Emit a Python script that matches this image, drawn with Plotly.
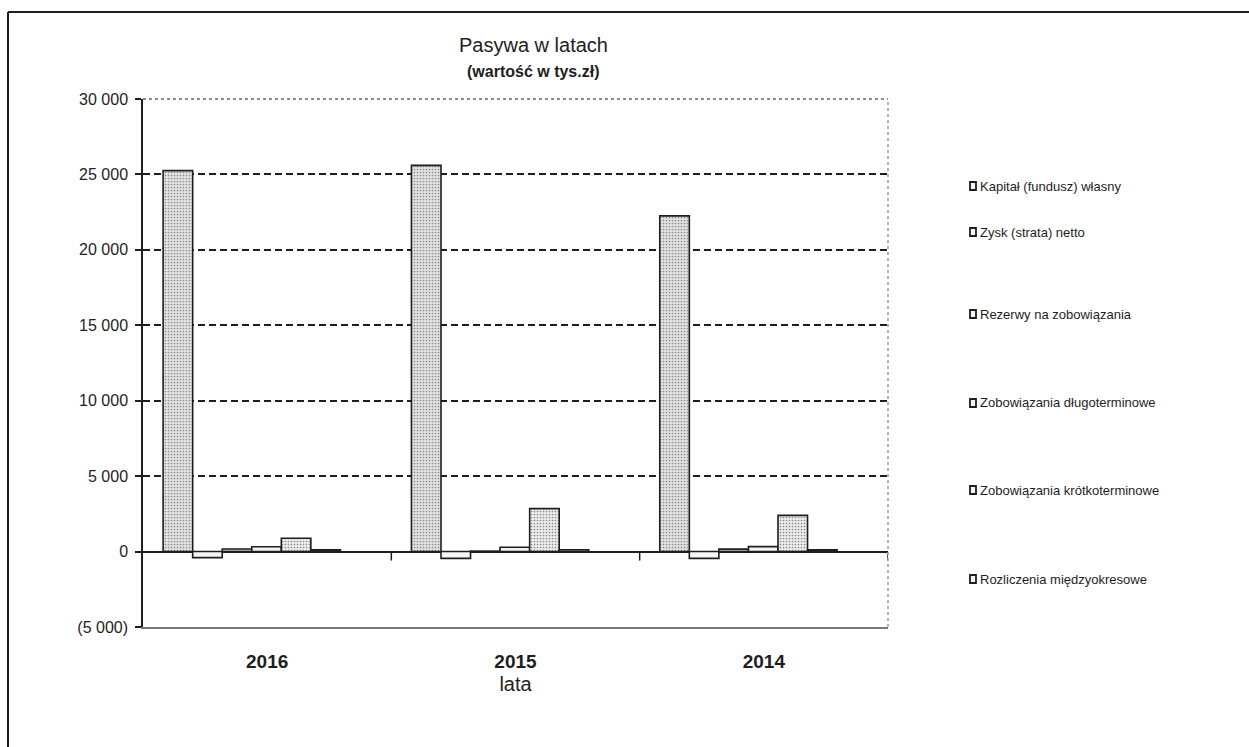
import plotly.graph_objects as go

# Balance-sheet liabilities by year (thousand PLN)
years = ["2016", "2015", "2014"]
series_names = [
    "Kapitał (fundusz) własny",
    "Zysk (strata) netto",
    "Rezerwy na zobowiązania",
    "Zobowiązania długoterminowe",
    "Zobowiązania krótkoterminowe",
    "Rozliczenia międzyokresowe",
]
kapital = [25250, 25600, 22250]
zysk = [-400, -450, -450]
rezerwy = [170, 30, 160]
zob_dlugo = [320, 290, 330]
zob_krotko = [880, 2850, 2400]
rozliczenia = [110, 120, 110]

y_tick_vals = [-5000, 0, 5000, 10000, 15000, 20000, 25000, 30000]
y_tick_text = ["(5 000)", "0", "5 000", "10 000", "15 000", "20 000", "25 000", "30 000"]

series_values = [kapital, zysk, rezerwy, zob_dlugo, zob_krotko, rozliczenia]

FONT = "Liberation Sans, Arial, sans-serif"
INK = "#1e1e1e"
GRID_DASH = "7px,4px"

# figure geometry (pixels)
W, H = 1249, 747
PL, PR, PT, PB = 143, 888, 99, 627


def px_x(x):
    return (x - PL) / (PR - PL)


def px_y(y):
    return (PB - y) / (PB - PT)


fills = ["#e2e2e2", "#f6f6f6", "#c8c8c8", "#f3f3f3", "#ececec", "#d6d6d6"]
patterned = [True, False, False, False, True, False]

bar_w = 0.119
first_offset = -0.419

fig = go.Figure()
for i, (name, vals) in enumerate(zip(series_names, series_values)):
    pattern = dict(shape=".", size=3, solidity=0.25, fgcolor="#8c8c8c",
                   bgcolor=fills[i], fillmode="replace") if patterned[i] else None
    fig.add_trace(go.Bar(
        name=name, x=years, y=vals,
        width=bar_w, offset=first_offset + i * bar_w,
        marker=dict(color=fills[i], line=dict(color=INK, width=1.6),
                    pattern=pattern),
        showlegend=False,
    ))

shapes = []
annotations = []

# category boundary ticks on the zero line
for k in range(len(years)):
    shapes.append(dict(type="line", xref="x", yref="y", ysizemode="pixel",
                       yanchor=0, x0=k + 0.5, x1=k + 0.5, y0=0, y1=-9,
                       line=dict(color=INK, width=1.5)))

# top edge of the plot area
shapes.append(dict(type="line", xref="x domain", yref="y domain",
                   x0=0, x1=1, y0=1, y1=1, layer="below",
                   line=dict(color="#6a6a6a", width=1.5, dash="dot")))
# right edge of the plot area
shapes.append(dict(type="line", xref="x domain", yref="y domain",
                   x0=1, x1=1, y0=0, y1=1,
                   line=dict(color="#9a9a9a", width=1.5, dash="dot")))

# outer chart frame (top and left)
shapes.append(dict(type="line", xref="paper", yref="paper",
                   x0=px_x(8), x1=px_x(W + 5), y0=px_y(12), y1=px_y(12),
                   line=dict(color=INK, width=2)))
shapes.append(dict(type="line", xref="paper", yref="paper",
                   x0=px_x(8), x1=px_x(8), y0=px_y(12), y1=px_y(H + 5),
                   line=dict(color=INK, width=2)))

# legend drawn beside the plot
legend_y = [186, 232, 314, 403, 490, 579]
for i, name in enumerate(series_names):
    shapes.append(dict(type="rect", xref="paper", yref="paper",
                       xsizemode="pixel", ysizemode="pixel",
                       xanchor=px_x(973), yanchor=px_y(legend_y[i]),
                       x0=-3, x1=3, y0=-4, y1=4,
                       fillcolor="#f4f4f4", line=dict(color=INK, width=1.8)))
    annotations.append(dict(text=name, xref="paper", yref="paper",
                            x=px_x(978), y=px_y(legend_y[i]),
                            xanchor="left", yanchor="middle", showarrow=False,
                            font=dict(family=FONT, size=13, color=INK)))

# chart title
annotations.append(dict(text="Pasywa w latach", xref="paper", yref="paper",
                        x=px_x(533), y=px_y(45), xanchor="center", yanchor="middle",
                        showarrow=False, font=dict(family=FONT, size=20, color=INK)))
annotations.append(dict(text="<b>(wartość w tys.zł)</b>", xref="paper", yref="paper",
                        x=px_x(533), y=px_y(71), xanchor="center", yanchor="middle",
                        showarrow=False, font=dict(family=FONT, size=16, color=INK)))

fig.update_layout(
    width=W, height=H,
    margin=dict(l=PL, r=W - PR, t=PT, b=H - PB, pad=0),
    paper_bgcolor="white", plot_bgcolor="white",
    barmode="overlay",
    shapes=shapes, annotations=annotations,
    font=dict(family=FONT, color=INK),
)

fig.update_yaxes(
    range=[-5000, 30000], tickvals=y_tick_vals, ticktext=y_tick_text,
    ticks="outside", ticklen=6, tickcolor=INK, tickwidth=1.5,
    tickfont=dict(family=FONT, size=16, color=INK),
    showline=True, linecolor=INK, linewidth=1.5,
    showgrid=True, gridcolor=INK, gridwidth=1.6, griddash=GRID_DASH,
    zeroline=True, zerolinecolor=INK, zerolinewidth=2,
    ticklabelstandoff=4,
)
fig.update_xaxes(
    type="category", categoryarray=years, range=[-0.5, len(years) - 0.5],
    showline=True, linecolor="#7a7a7a", linewidth=1.5,
    ticks="", showgrid=False,
    tickfont=dict(family=FONT, size=19, color=INK, weight="bold"),
    ticklabelstandoff=16,
    title=dict(text="lata", font=dict(family=FONT, size=20, color=INK), standoff=6),
)

fig.write_html("out.html")
